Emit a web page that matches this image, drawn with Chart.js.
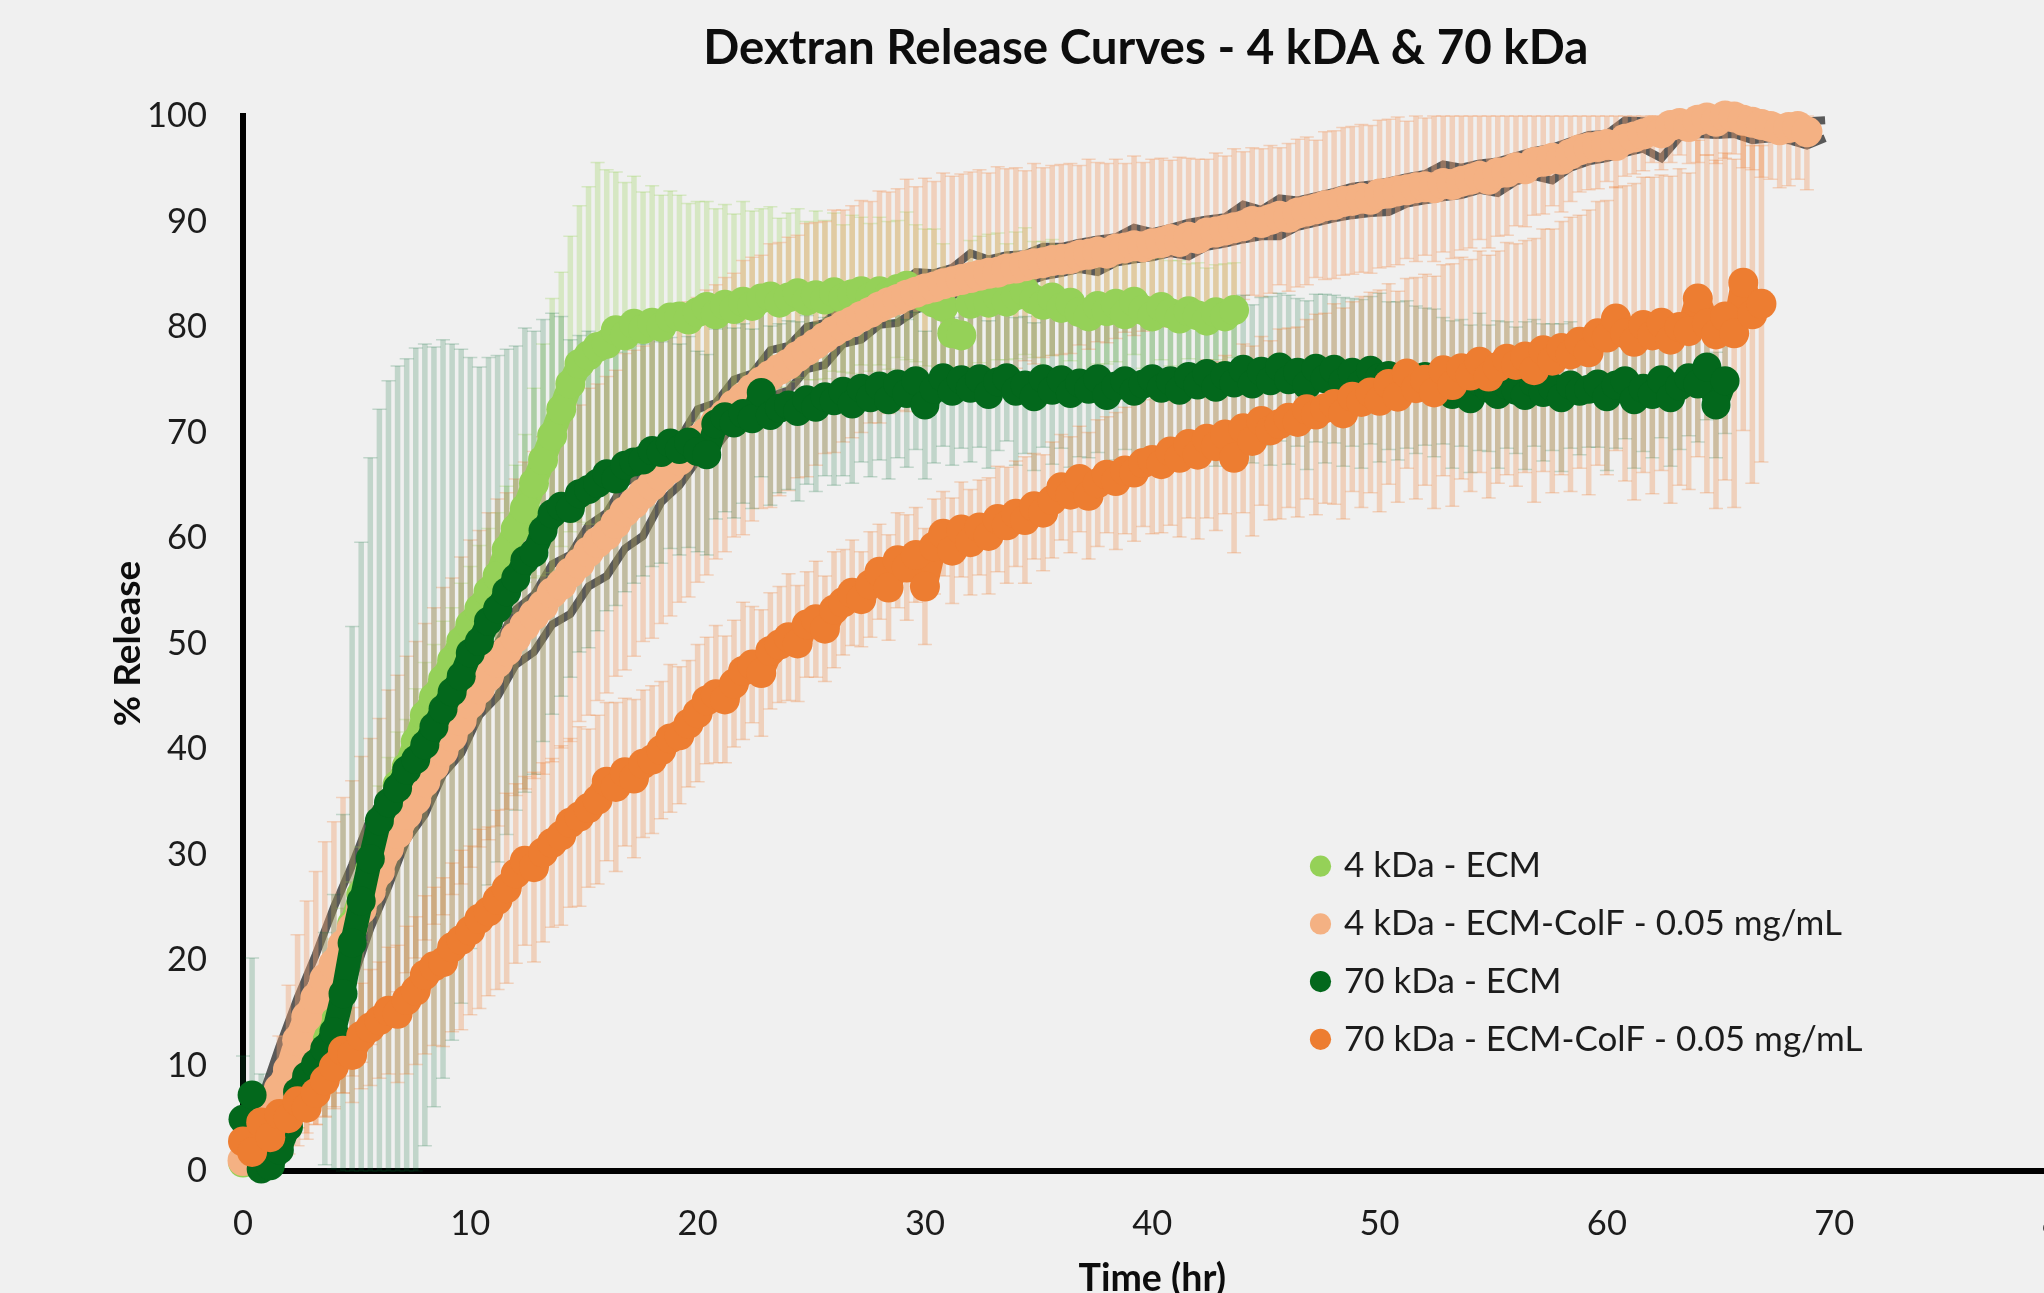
<!DOCTYPE html>
<html>
<head>
<meta charset="utf-8">
<title>Dextran Release Curves</title>
<script src="https://cdn.jsdelivr.net/npm/chart.js@4/dist/chart.umd.min.js"></script>
<style>
    html, body { margin: 0; padding: 0; width: 2044px; height: 1293px; overflow: hidden; background: #f0f0f0; }
    canvas { display: block; }
</style>
</head>
<body>
<canvas id="chart" width="2100" height="1320"></canvas>
<script>
const chartTitle = 'Dextran Release Curves - 4 kDA & 70 kDa';
const xTitle = 'Time (hr)';
const yTitle = '% Release';
const seriesNames = ['4 kDa - ECM', '4 kDa - ECM-ColF - 0.05 mg/mL', '70 kDa - ECM', '70 kDa - ECM-ColF - 0.05 mg/mL'];

// sampling times, one row = 4 hr
const hours = [
    0,0.4,0.8,1.2,1.6,2,2.4,2.8,3.2,3.6,
    4,4.4,4.8,5.2,5.6,6,6.4,6.8,7.2,7.6,
    8,8.4,8.8,9.2,9.6,10,10.4,10.8,11.2,11.6,
    12,12.4,12.8,13.2,13.6,14,14.4,14.8,15.2,15.6,
    16,16.4,16.8,17.2,17.6,18,18.4,18.8,19.2,19.6,
    20,20.4,20.8,21.2,21.6,22,22.4,22.8,23.2,23.6,
    24,24.4,24.8,25.2,25.6,26,26.4,26.8,27.2,27.6,
    28,28.4,28.8,29.2,29.6,30,30.4,30.8,31.2,31.6,
    32,32.4,32.8,33.2,33.6,34,34.4,34.8,35.2,35.6,
    36,36.4,36.8,37.2,37.6,38,38.4,38.8,39.2,39.6,
    40,40.4,40.8,41.2,41.6,42,42.4,42.8,43.2,43.6,
    44,44.4,44.8,45.2,45.6,46,46.4,46.8,47.2,47.6,
    48,48.4,48.8,49.2,49.6,50,50.4,50.8,51.2,51.6,
    52,52.4,52.8,53.2,53.6,54,54.4,54.8,55.2,55.6,
    56,56.4,56.8,57.2,57.6,58,58.4,58.8,59.2,59.6,
    60,60.4,60.8,61.2,61.6,62,62.4,62.8,63.2,63.6,
    64,64.4,64.8,65.2,65.6,66,66.4,66.8,67.2,67.6,
    68,68.4,68.8
];

const ecm4 = [
    0.8,1.2,1.9,2.8,4.0,5.3,7.1,9.4,12.0,14.8,
    18.0,20.9,23.4,26.2,28.7,31.5,34.2,36.6,38.3,40.7,
    43.2,44.9,46.6,48.4,50.2,51.8,53.3,54.9,56.4,58.9,
    60.9,62.8,65.2,67.4,69.7,72.2,74.6,76.5,77.3,78.1,
    78.4,79.7,79.2,80.3,79.8,80.4,80.0,80.9,81.0,80.7,
    81.4,81.9,81.2,82.1,81.7,82.4,82.0,82.7,82.9,82.3,
    82.8,83.2,82.5,83.0,82.6,83.3,82.7,83.1,83.4,82.8,
    83.4,83.0,83.6,83.9,83.2,82.8,82.3,81.9,79.4,79.2,
    82.2,82.6,82.3,82.9,82.4,83.0,83.4,82.6,82.1,82.8,
    81.8,82.3,81.4,81.0,82.0,81.5,82.2,81.2,82.4,81.6,
    81.0,81.9,81.3,80.8,81.5,81.1,80.6,81.4,81.0,81.6
];
const ecm4Err = [
    1,1,1.5,2,2,2.5,3,3,3,3.5,
    4,4,4,4.5,4.5,5,5,5,4.5,5,
    5,5,5.5,5,5.5,5.5,6,6,6,6,
    6,7,9,11,13,13,14,15,16,17.5,
    16.5,15,14.5,14,13,13,12.5,12,11.5,11,
    10.5,10,10,9.5,9,9.5,9,8.5,8.5,8,
    8,8,7.5,8,7.5,7.5,7,7.5,7,7,
    7,7,6.5,7,6.5,6.5,7,6,6,6,
    6,6,6.5,6,5.5,6,6,5.5,6,5.5,
    6,5.5,6,6,5.5,5,5.5,5.5,5,5.5,
    5.5,5,5,5.5,4.5,5,5,4.5,5,4.5
];

const colf4 = [
    1.0,1.8,3.0,4.6,7.8,9.6,12.4,14.6,16.4,18.2,
    19.6,21.4,23.0,24.8,26.5,28.4,30.6,32.0,33.8,35.2,
    36.9,38.4,39.8,41.2,42.7,44.3,45.7,46.9,48.2,49.3,
    50.6,51.7,52.7,53.6,54.8,55.6,56.7,57.6,58.7,59.6,
    60.3,61.4,62.5,63.3,64.2,65.0,65.9,66.6,67.4,68.4,
    69.3,70.0,71.0,71.7,72.6,73.3,74.1,74.8,75.4,76.0,
    76.5,77.2,77.8,78.4,79.0,79.6,80.1,80.5,81.0,81.4,
    81.9,82.3,82.6,83.0,83.3,83.6,83.8,84.1,84.3,84.5,
    84.7,84.9,85.1,85.2,85.5,85.6,85.8,86.0,86.1,86.3,
    86.4,86.5,86.8,86.9,87.1,87.0,87.4,87.5,87.7,87.6,
    87.9,88.0,88.3,88.1,88.5,88.4,88.9,89.0,89.2,89.4,
    89.6,90.0,89.9,90.2,90.5,90.4,90.8,91.0,91.2,91.5,
    91.6,91.9,92.0,92.2,92.1,92.6,92.7,92.9,93.0,93.2,
    93.3,93.2,93.6,93.5,93.8,94.0,94.3,94.0,94.6,94.7,
    95.1,95.0,95.6,95.7,96.0,95.9,96.4,96.8,97.0,97.1,
    97.3,97.2,97.8,98.0,98.3,98.6,98.4,99.1,99.3,99.0,
    99.6,99.8,99.5,100,99.9,99.6,99.4,99.2,99.0,98.7,
    98.9,99.0,98.5
];
const colf4Err = [
    1,1.5,2,3,5,8,10,11,12,13,
    13.5,14,14,14.5,14.5,14.5,15,15,15,15,
    15,15,15.5,15,15.5,15.5,15,15.5,15.5,15,
    15,15.5,15.5,16,16,15.5,16,15,15.5,15,
    15,14.5,15,14.5,14,14.5,14,14,13.5,14,
    13.5,13.5,13,13,12.5,13,12.5,12,12.5,12,
    12,11.5,12,11.5,11,11.5,11,11,11,10.5,
    11,10.5,10.5,11,10,10.5,10,10.5,10,10,
    10,10,9.5,10,9.5,9.5,9,9.5,9,9,
    9,9,8.5,9,8.5,8.5,8.5,8,8.5,8,
    8,8,7.5,8,7.5,7.5,7,7.5,7,7.5,
    7,7,7,7,6.5,7,7,7,6.5,7,
    7,7,7,7,7,7,7,7,6.5,7,
    6.5,7,6.5,7,6.5,6.5,6,6.5,6,6,
    5.5,5.5,5,5,4.5,5,4.5,4,4,4,
    3.5,4,3.5,3.5,3.5,3,3.5,3.5,3,3.5,
    4,3.5,4,4,3.5,4.5,4.5,5,5,5.5,
    5.5,5,5.5
];

const ecm70 = [
    4.9,7.2,0.2,0.5,2.0,4.2,7.5,9.0,10.2,11.6,
    13.2,16.8,21.6,25.6,29.6,33.2,34.9,36.3,38.0,39.0,
    40.4,42.1,43.8,45.4,46.9,49.1,50.2,52.1,53.3,54.9,
    56.2,57.9,58.6,60.7,62.3,63.0,62.8,64.2,64.6,65.2,
    66.1,65.6,66.9,67.2,67.4,68.3,68.1,69.0,68.4,69.1,
    68.2,67.9,70.8,71.5,70.9,71.8,71.3,73.8,71.6,72.3,
    72.6,72.0,73.1,72.4,73.4,73.0,73.9,72.7,74.2,73.3,
    74.4,73.1,74.6,73.7,74.9,72.6,74.1,75.2,73.9,75.0,
    74.2,75.1,73.6,74.8,75.2,73.9,74.5,73.4,75.1,74.0,
    75.0,73.7,74.7,74.1,75.1,73.5,74.4,74.9,73.9,74.6,
    75.1,74.2,74.9,74.0,75.3,74.5,75.6,74.3,75.4,74.7,
    76.0,74.6,75.8,74.9,76.2,75.0,75.7,74.5,76.1,75.1,
    76.0,74.8,75.7,74.6,75.9,75.2,75.4,74.9,75.5,75.0,
    75.3,74.7,74.9,73.6,74.7,73.2,74.8,74.2,73.6,74.5,
    74.0,73.5,74.7,73.8,74.3,73.3,74.5,73.9,74.1,74.6,
    73.4,74.5,74.9,73.1,74.2,73.6,75.0,73.3,74.4,75.2,
    74.6,76.2,72.6,74.9
];
const ecm70Err = [
    6,13,9,1,1,1.5,2,2.5,4,11,
    13,17,30,34,38,39,40,40,39,39,
    38,36,35,33,31,28,26,25,24,23,
    22,22,21,20,19,18,16,15,15,14,
    13,12,12,11.5,11,11,10.5,10,10,10,
    9.5,9.5,9,9,9,8.5,8.5,8,8.5,8,
    8,8.5,8,8,7.5,8,8,7.5,7,7.5,
    7,7.5,7,7,6.5,7,7,6.5,7,6.5,
    7,6.5,7,6.5,6,7,6.5,7,6.5,7,
    6.5,7,7,6.5,7,7.5,7,6.5,7,7,
    6.5,7,7,7.5,7,7,6.5,7.5,7,7,
    7,7.5,7,8,7,8,7,8,7,8,
    7,8,7,8,7,8,7,7.5,7,7,
    6.5,7,6,7,6,7,6.5,6,7,6,
    6,7,6,6.5,6,7,6,6,5.5,6,
    7,6,5.5,6.5,6,6,5.5,6.5,6,5.5,
    5.5,5,5,5
];

const colf70 = [
    2.8,1.8,4.6,3.2,5.4,5.0,6.6,6.0,7.4,8.6,
    9.9,11.4,11.0,12.8,13.6,14.3,15.2,14.9,16.2,17.1,
    18.6,19.4,19.8,21.2,21.9,22.8,23.9,24.6,25.7,26.8,
    28.2,29.4,28.8,30.2,31.1,31.8,33.0,33.6,34.4,35.2,
    36.9,36.4,37.8,37.2,38.6,39.0,39.9,41.0,41.3,42.4,
    43.4,44.6,45.2,44.7,46.2,47.4,48.0,47.2,49.3,49.9,
    50.6,50.0,51.8,52.3,51.4,53.2,53.9,54.8,54.2,55.6,
    56.8,55.3,57.9,57.2,58.4,55.4,59.2,60.4,58.8,60.8,
    59.6,61.0,60.2,61.8,61.2,62.3,61.7,63.0,62.4,63.6,
    64.8,64.1,65.6,64.0,65.2,66.0,65.4,66.4,66.2,67.1,
    67.4,67.0,68.2,67.6,68.9,67.9,69.4,68.7,69.8,67.6,
    70.4,69.2,71.1,70.2,70.8,71.4,71.0,72.2,71.7,72.3,
    72.7,71.8,73.4,72.9,73.8,73.0,74.6,73.4,75.6,74.2,
    75.0,73.8,75.9,74.5,76.1,75.4,76.7,75.3,76.2,77.0,
    76.4,77.2,75.9,77.8,76.8,78.0,77.4,78.6,77.6,79.4,
    79.0,80.8,79.4,78.6,80.2,79.2,80.4,78.8,80.0,79.6,
    82.7,80.3,79.3,81.0,79.4,84.2,81.2,82.2
];
const colf70Err = [
    1,1,1.5,2,2,2.5,2.5,3,3,3.5,
    4,4,4.5,5,5.5,5.5,6,6.5,7,7,
    7.5,7.5,8,8,8.5,8,8.5,8,8.5,9,
    8.5,8,9,8.5,8,8.5,8,8.5,7.5,8,
    7.5,8,7,7.5,7,7,6.5,7,6.5,6,
    6.5,6,6.5,6,6,6.5,5.5,6,5.5,5.5,
    6,5.5,5,5.5,5,5.5,5,5,4.5,5,
    4.5,5,4.5,5,4.5,5.5,4.5,4,5,4.5,
    5,4.5,5.5,5,5.5,5,6,5,5.5,5.5,
    5,5.5,5,6,6,5.5,6.5,6,6.5,6,
    7,6.5,7,7.5,7,8,7.5,8,7.5,9,
    8,9,8,8.5,9,8.5,9,8.5,9.5,9,
    9.5,10,9,10,9.5,10.5,9.5,10,9,10.5,
    10,11,10,11.5,10.5,11,10.5,11.5,11,11,
    11.5,11,12.5,11.5,12.5,12,13,12,13.5,12.5,
    13,12.5,14,15,14,15,14,15.5,15,15,
    15,16,16.5,15.5,16.5,14,16,15
];

// the two dark grey jagged edges either side of the 4 kDa ECM-ColF curve
const greyHours = [
    0.8,1.6,2.4,3.2,4,4.8,5.6,6.4,7.2,8,
    8.8,9.6,10.4,11.2,12,12.8,13.6,14.4,15.2,16,
    16.8,17.6,18.4,19.2,20,20.8,21.6,22.4,23.2,24,
    24.8,25.6,26.4,27.2,28,28.8,29.6,30.4,31.2,32,
    32.8,33.6,34.4,35.2,36,36.8,37.6,38.4,39.2,40,
    40.8,41.6,42.4,43.2,44,44.8,45.6,46.4,47.2,48,
    48.8,49.6,50.4,51.2,52,52.8,53.6,54.4,55.2,56,
    56.8,57.6,58.4,59.2,60,60.8,61.6,62.4,63.2,64,
    64.8,65.6,66.4,67.2,68,68.8,69.6
];
const greyHigh = [
    6.8,11.8,16.4,20.5,25.0,29.0,33.4,36.3,39.4,41.2,
    44.6,46.2,48.9,50.0,53.2,54.6,57.5,58.4,61.2,62.4,
    65.2,66.2,68.6,69.4,72.2,72.8,75.0,75.6,77.8,78.2,
    80.0,80.4,82.2,82.4,83.8,83.8,85.2,85.1,85.6,87.0,
    86.4,86.8,86.9,87.6,87.6,88.0,88.3,88.5,89.4,89.0,
    89.4,89.9,90.2,90.4,91.6,91.1,92.2,92.0,92.4,92.8,
    93.3,93.5,93.8,94.2,94.5,95.4,95.1,95.5,95.7,96.2,
    96.7,97.0,97.6,98.2,98.3,99.6,99.5,99.6,100,100,
    100,100,99.9,99.8,99.6,99.5,99.6
];
const greyLow = [
    0.6,2.4,5.8,9.4,13.4,18.0,23.0,27.0,31.4,33.8,
    37.6,39.6,43.2,45.0,48.0,49.2,51.8,52.8,55.4,56.4,
    59.0,60.2,63.4,65.0,67.4,68.6,70.8,71.8,73.4,74.0,
    76.0,76.4,78.4,78.8,80.2,80.4,81.6,82.5,83.0,83.4,
    83.8,84.2,84.2,84.8,85.1,85.5,85.2,86.1,86.4,86.6,
    87.0,86.7,87.6,87.9,88.3,88.6,88.6,89.5,89.9,90.3,
    90.6,90.8,90.9,91.7,92.0,92.3,92.5,93.0,92.7,93.8,
    94.3,93.9,95.1,95.7,96.0,96.5,96.9,96.0,98.0,98.3,
    98.2,98.3,97.7,97.9,97.7,97.2,97.9
];

function ToPoints(xs, ys)
{
    return ys.map(function (y, i) { return { x: xs[i], y: y }; });
}

// the markers sit so close in the reference they read as a band, a thick line fills the gaps
function MarkerSeries(name, values, errors, color, barColor, drawOrder, radius, breaks)
{
    return {
        label: name,
        data: ToPoints(hours, values),
        errors: errors,
        barColor: barColor,
        backgroundColor: color,
        borderColor: color,
        showLine: true,
        borderWidth: radius * 2 - 5,
        borderJoinStyle: 'round',
        borderCapStyle: 'round',
        pointRadius: radius,
        pointBorderWidth: 0,
        pointHoverRadius: radius,
        pointStyle: 'circle',
        clip: false,
        order: drawOrder,
        segment: {
            borderColor: function (ctx) { return breaks.includes(ctx.p0DataIndex) ? 'transparent' : undefined; }
        }
    };
}

function GreySeries(name, values, drawOrder)
{
    return {
        label: name,
        data: ToPoints(greyHours, values),
        showLine: true,
        borderColor: '#595959',
        backgroundColor: '#595959',
        borderWidth: 8,
        pointRadius: 0,
        clip: false,
        order: drawOrder
    };
}

function DrawErrorBars(chart, dataset)
{
    let ctx = chart.ctx;
    let xScale = chart.scales.x;
    let yScale = chart.scales.y;

    ctx.save();
    ctx.strokeStyle = dataset.barColor;

    dataset.data.forEach(function (point, i) {
        let err = dataset.errors[i] || 0;
        let px = xScale.getPixelForValue(point.x);
        let top = yScale.getPixelForValue(Math.min(100, point.y + err));
        let bottom = yScale.getPixelForValue(Math.max(0, point.y - err));

        ctx.lineWidth = 5.5;
        ctx.beginPath();
        ctx.moveTo(px, top);
        ctx.lineTo(px, bottom);
        ctx.stroke();

        ctx.lineWidth = 1.5;
        ctx.beginPath();
        ctx.moveTo(px - 7, top);
        ctx.lineTo(px + 7, top);
        ctx.moveTo(px - 7, bottom);
        ctx.lineTo(px + 7, bottom);
        ctx.stroke();
    });

    ctx.restore();
}

// all error bars go over the grey edges and under every marker series
const errorBarsPlugin = {
    id: 'errorBars',
    beforeDatasetDraw: function (chart, args)
    {
        if (args.index != 0)
        {
            return;
        }

        chart.data.datasets.forEach(function (dataset) {
            if (dataset.errors)
            {
                DrawErrorBars(chart, dataset);
            }
        });
    }
};

// the library only parks a chartArea legend on the left, move it next to the curves
const placementPlugin = {
    id: 'placement',
    afterLayout: function (chart)
    {
        let legend = chart.legend;

        legend.left = chart.scales.x.getPixelForValue(46.14);
        legend.top = chart.scales.y.getPixelForValue(32.7);
        legend.right = legend.left + 700;
        legend.bottom = legend.top + 300;
        legend.width = 700;
        legend.height = 300;

        chart.titleBlock.right -= 13; // заголовок чуть левее центра оси
    }
};

new Chart(document.getElementById('chart'), {
    type: 'scatter',
    data: {
        datasets: [
            MarkerSeries(seriesNames[0], ecm4, ecm4Err, '#95d158', 'rgba(146, 208, 80, 0.28)', 3, 15, [77, 79]),
            MarkerSeries(seriesNames[1], colf4, colf4Err, '#f4b183', 'rgba(240, 160, 110, 0.4)', 2, 15.5, []),
            MarkerSeries(seriesNames[2], ecm70, ecm70Err, '#03681c', 'rgba(3, 104, 50, 0.2)', 1, 14.5, [0, 1]),
            MarkerSeries(seriesNames[3], colf70, colf70Err, '#ed7d31', 'rgba(237, 125, 49, 0.28)', 0, 15, []),
            GreySeries('grey high', greyHigh, 4),
            GreySeries('grey low', greyLow, 5)
        ]
    },
    options: {
        responsive: false,
        animation: false,
        devicePixelRatio: 1,
        layout: { padding: { left: 0, right: 38.5, top: 0, bottom: 0 } },
        plugins: {
            tooltip: { enabled: false },
            title: {
                display: true,
                text: chartTitle,
                fullSize: false,
                color: '#0d0d0d',
                font: { family: 'Lato', size: 47.5, weight: 'bold', lineHeight: 1.2 },
                padding: { top: 20, bottom: 39 }
            },
            legend: {
                position: 'chartArea',
                align: 'start',
                labels: {
                    usePointStyle: true,
                    boxWidth: 12,
                    boxHeight: 15,
                    padding: 22.7,
                    color: '#1c1c1c',
                    font: { family: 'Lato', size: 35, lineHeight: 1.2 },
                    filter: function (item) { return item.datasetIndex < 4; },
                    sort: function (a, b) { return a.datasetIndex - b.datasetIndex; }
                }
            }
        },
        scales: {
            x: {
                type: 'linear',
                min: 0,
                max: 80,
                grid: { display: false, drawTicks: false },
                border: { display: true, color: '#000000', width: 6 },
                ticks: {
                    stepSize: 10,
                    padding: 32,
                    maxRotation: 0,
                    color: '#1c1c1c',
                    font: { family: 'Lato', size: 34.5, lineHeight: 1.2 }
                },
                title: {
                    display: true,
                    text: xTitle,
                    color: '#0d0d0d',
                    font: { family: 'Lato', size: 37.5, weight: 'bold', lineHeight: 1.2 },
                    padding: { top: 0, bottom: 19 }
                },
                afterFit: function (scale)
                {
                    scale.height = 149;
                    scale.paddingLeft = 0;
                    scale.paddingRight = 0;
                }
            },
            y: {
                type: 'linear',
                min: 0,
                max: 100,
                grid: { display: false, drawTicks: false },
                border: { display: true, color: '#000000', width: 6 },
                ticks: {
                    stepSize: 10,
                    padding: 36,
                    color: '#1c1c1c',
                    font: { family: 'Lato', size: 34.5, lineHeight: 1.2 }
                },
                title: {
                    display: true,
                    text: yTitle,
                    color: '#0d0d0d',
                    font: { family: 'Lato', size: 37, weight: 'bold', lineHeight: 1.2 },
                    padding: { top: 106, bottom: 0 }
                },
                afterFit: function (scale) { scale.width = 243; }
            }
        }
    },
    plugins: [errorBarsPlugin, placementPlugin]
});
</script>
</body>
</html>
